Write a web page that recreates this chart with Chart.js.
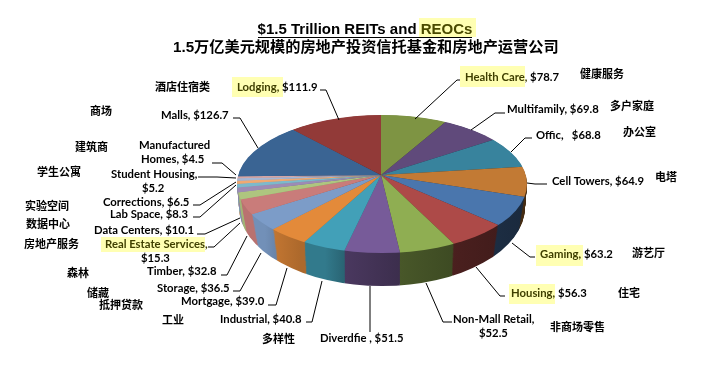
<!DOCTYPE html>
<html>
<head>
<meta charset="utf-8">
<script src="https://cdn.jsdelivr.net/npm/chart.js@4"></script>
<style>
html, body { margin: 0; padding: 0; background: #fff; }
canvas { display: block; }
</style>
</head>
<body>
<canvas id="graficoPie" width="722" height="365"></canvas>
<script>
//Datos
const categories = ['Health Care', 'Multifamily', 'Offic', 'Cell Towers', 'Gaming', 'Housing', 'Non-Mall Retail', 'Diverdfie ', 'Industrial', 'Mortgage', 'Storage', 'Timber', 'Real Estate Services', 'Data Centers', 'Lab Space', 'Corrections', 'Student Housing', 'Manufactured Homes', 'Malls', 'Lodging'];
const values = [78.7, 69.8, 68.8, 64.9, 63.2, 56.3, 52.5, 51.5, 40.8, 39.0, 36.5, 32.8, 15.3, 10.1, 8.3, 6.5, 5.2, 4.5, 126.7, 111.9];
const namesZh = ['健康服务', '多户家庭', '办公室', '电塔', '游艺厅', '住宅', '非商场零售', '多样性', '工业', '抵押贷款', '储藏', '森林', '房地产服务', '数据中心', '实验空间', '学生公寓', '', '建筑商', '商场', '酒店住宿类'];
const titleLine1 = '$1.5 Trillion REITs and ';
const titleLine1b = 'REOCs';
const titleLine2 = '1.5万亿美元规模的房地产投资信托基金和房地产运营公司';
const sliceColors = ['#7e9443', '#604a7b', '#38839d', '#c27a34', '#4a76ad', '#ad4a48', '#8fae52', '#775b99', '#42a0b8', '#e38a3a', '#7c9cc8', '#c97c7a', '#aec57f', '#9d8bb5', '#7db9cb', '#f0a972', '#a5b7d5', '#d4a6a5', '#3a6493', '#923a38'];

//Geometria del pie inclinado
const apexX = 381, apexY = 175;
const rimX = 382, rimY = 184, rimRx = 145, rimRy = 69;
const floorY = 207, floorRx = 143, floorRy = 79;
const tilt = 0.476, depth = 33;
//Sombreado de la pared segun x
const wallShade = [[238, .92], [265, .92], [275, .85], [300, .76], [325, .76], [345, .62], [400, .5], [460, .42], [526, .35]];

//Posicion de textos: x, y (centro), corte de linea, resaltado y linea guia
const labelSpots = [
    { x: 465, y: 77, hl: [460, 66, 65, 21], lead: [[460, 80], [457, 80], [415, 119]] },
    { x: 507, y: 109, lead: [[505, 113], [495, 113], [471, 130]] },
    { x: 536, y: 135, sep: ',   ', lead: [[532, 138], [525, 138], [511, 152]] },
    { x: 552, y: 181, lead: [[547, 184], [535, 184], [527, 183]] },
    { x: 540, y: 254, hl: [536, 245, 47, 21], lead: [[535, 257], [530, 257], [512, 243]] },
    { x: 511, y: 293, hl: [509, 284, 46, 20], lead: [[505, 296], [500, 296], [476, 267]] },
    { x: 453, y: 319, cut: 16, x2: 479, y2: 333, lead: [[452, 322], [443, 322], [426, 283]] },
    { x: 320, y: 338, lead: [[370, 332], [370, 286]] },
    { x: 220, y: 319, lead: [[306, 322], [312, 322], [322, 281]] },
    { x: 181, y: 301, lead: [[268, 305], [276, 305], [287, 268]] },
    { x: 157, y: 288, lead: [[233, 291], [240, 291], [261, 253]] },
    { x: 147, y: 271, lead: [[221, 275], [227, 275], [247, 236]] },
    { x: 105, y: 244, cut: 21, x2: 141, y2: 258, hl: [101, 237, 104, 15], lead: [[208, 247], [214, 247], [240, 223]] },
    { x: 94, y: 230, lead: [[197, 234], [205, 234], [240, 218]] },
    { x: 110, y: 214, lead: [[193, 217], [200, 217], [236, 185]] },
    { x: 103, y: 202, lead: [[193, 205], [200, 205], [236, 182]] },
    { x: 111, y: 174, cut: 16, x2: 142, y2: 188, lead: [[198, 177], [217, 177], [236, 178]] },
    { x: 139, y: 145, cut: 12, x2: 141, y2: 159, lead: [[212, 163], [222, 163], [236, 175]] },
    { x: 161, y: 115, lead: [[233, 118], [240, 118], [258, 148]] },
    { x: 237, y: 87, hl: [232, 77, 51, 20], lead: [[320, 90], [326, 90], [339, 120]] }
];
const zhSpots = [[580, 74], [610, 106], [623, 132], [655, 177], [632, 253], [618, 293], [550, 327], [262, 339], [162, 320], [99, 305], [87, 293], [67, 273], [24, 244], [26, 224], [25, 206], [37, 172], [0, 0], [75, 147], [90, 111], [155, 87]];

function wallGradient(ctx, color, shiftX) {
    const x0 = wallShade[0][0], x1 = wallShade[wallShade.length - 1][0];
    const g = ctx.createLinearGradient(x0 - shiftX, 0, x1 - shiftX, 0);
    const r = parseInt(color.slice(1, 3), 16), gr = parseInt(color.slice(3, 5), 16), b = parseInt(color.slice(5, 7), 16);
    wallShade.forEach(([x, f]) => {
        g.addColorStop((x - x0) / (x1 - x0), `rgb(${r * f},${gr * f},${b * f})`);
    });
    return g;
}

//Plugin: aplasta el pie y apila paredes debajo
const tiltPlugin = {
    id: 'tilt',
    beforeDatasetDraw(chart) {
        const ctx = chart.ctx;
        const arcs = chart.getDatasetMeta(0).data;
        const cx = arcs[0].x, cy = arcs[0].y;
        const shiftX = apexX - cx;
        const walls = sliceColors.map(c => wallGradient(ctx, c, shiftX));
        for (let dy = depth; dy > 0; dy--) {
            const t = dy / depth;
            ctx.save();
            ctx.beginPath();
            ctx.ellipse(rimX, rimY + (floorY - rimY) * t, rimRx + (floorRx - rimRx) * t, rimRy + (floorRy - rimRy) * t, 0, 0, Math.PI * 2);
            ctx.clip();
            ctx.translate(apexX, apexY + dy);
            ctx.scale(1, tilt);
            ctx.translate(-cx, -cy);
            arcs.forEach((arc, i) => {
                const original = arc.options;
                arc.options = Object.assign(Object.create(original), { backgroundColor: walls[i] });
                arc.draw(ctx);
                arc.options = original;
            });
            ctx.restore();
        }
        ctx.save();
        ctx.beginPath();
        ctx.ellipse(rimX, rimY, rimRx, rimRy, 0, 0, Math.PI * 2);
        ctx.clip();
        ctx.translate(apexX, apexY);
        ctx.scale(1, tilt);
        ctx.translate(-cx, -cy);
    },
    afterDatasetDraw(chart) {
        chart.ctx.restore();
    }
};

//Plugin: titulo, etiquetas y lineas guia
const textPlugin = {
    id: 'textos',
    afterDraw(chart) {
        const ctx = chart.ctx;
        ctx.save();
        ctx.textBaseline = 'middle';
        ctx.textAlign = 'left';

        //Titulo
        ctx.fillStyle = '#ffffb3';
        ctx.fillRect(419, 18, 57, 19);
        ctx.fillStyle = '#000';
        ctx.font = 'bold 15px "Liberation Sans"';
        const w1 = ctx.measureText(titleLine1 + titleLine1b).width;
        const tx = 258 + (214 - w1) / 2;
        ctx.fillText(titleLine1, tx, 30);
        ctx.fillStyle = '#4a4a00';
        ctx.fillText(titleLine1b, tx + ctx.measureText(titleLine1).width, 30);
        ctx.fillStyle = '#000';
        ctx.fillRect(258, 37, 214, 1);
        ctx.font = 'bold 15.2px "Liberation Sans", "Noto Sans CJK SC"';
        ctx.fillText(titleLine2, 173, 48);

        //Lineas guia
        ctx.strokeStyle = '#000';
        ctx.lineWidth = 1;
        labelSpots.forEach(s => {
            ctx.beginPath();
            s.lead.forEach(([x, y], k) => k ? ctx.lineTo(x, y) : ctx.moveTo(x, y));
            ctx.stroke();
        });

        //Etiquetas
        ctx.font = 'bold 11.3px Lato';
        labelSpots.forEach((s, i) => {
            const text = categories[i] + (s.sep || ', ') + '$' + values[i].toFixed(1);
            if (s.hl) {
                ctx.fillStyle = '#ffffb3';
                ctx.fillRect(s.hl[0], s.hl[1], s.hl[2], s.hl[3]);
            }
            ctx.fillStyle = s.hl ? '#3f3f00' : '#000';
            if (s.cut) {
                ctx.fillText(text.slice(0, s.cut), s.x, s.y);
                ctx.fillStyle = '#000';
                ctx.fillText(text.slice(s.cut).trim(), s.x2, s.y2);
            } else if (s.hl) {
                const nameEnd = text.indexOf('$');
                ctx.fillText(text.slice(0, nameEnd), s.x, s.y);
                ctx.fillStyle = '#000';
                ctx.fillText(text.slice(nameEnd), s.x + ctx.measureText(text.slice(0, nameEnd)).width, s.y);
            } else {
                ctx.fillText(text, s.x, s.y);
            }
        });

        //Nombres en chino
        ctx.fillStyle = '#000';
        ctx.font = 'bold 11px "Noto Sans CJK SC"';
        namesZh.forEach((name, i) => {
            if (name) ctx.fillText(name, zhSpots[i][0], zhSpots[i][1]);
        });
        ctx.restore();
    }
};

document.addEventListener('DOMContentLoaded', function () {
    const ctx = document.getElementById('graficoPie').getContext('2d');
    new Chart(ctx, {
        type: 'pie',
        data: {
            labels: categories,
            datasets: [{
                data: values,
                backgroundColor: sliceColors,
                borderWidth: 0,
                clip: false
            }]
        },
        options: {
            responsive: false,
            animation: false,
            layout: { padding: 0 },
            plugins: {
                legend: { display: false },
                tooltip: { enabled: false },
                title: { display: false }
            }
        },
        plugins: [tiltPlugin, textPlugin]
    });
});
</script>
</body>
</html>
